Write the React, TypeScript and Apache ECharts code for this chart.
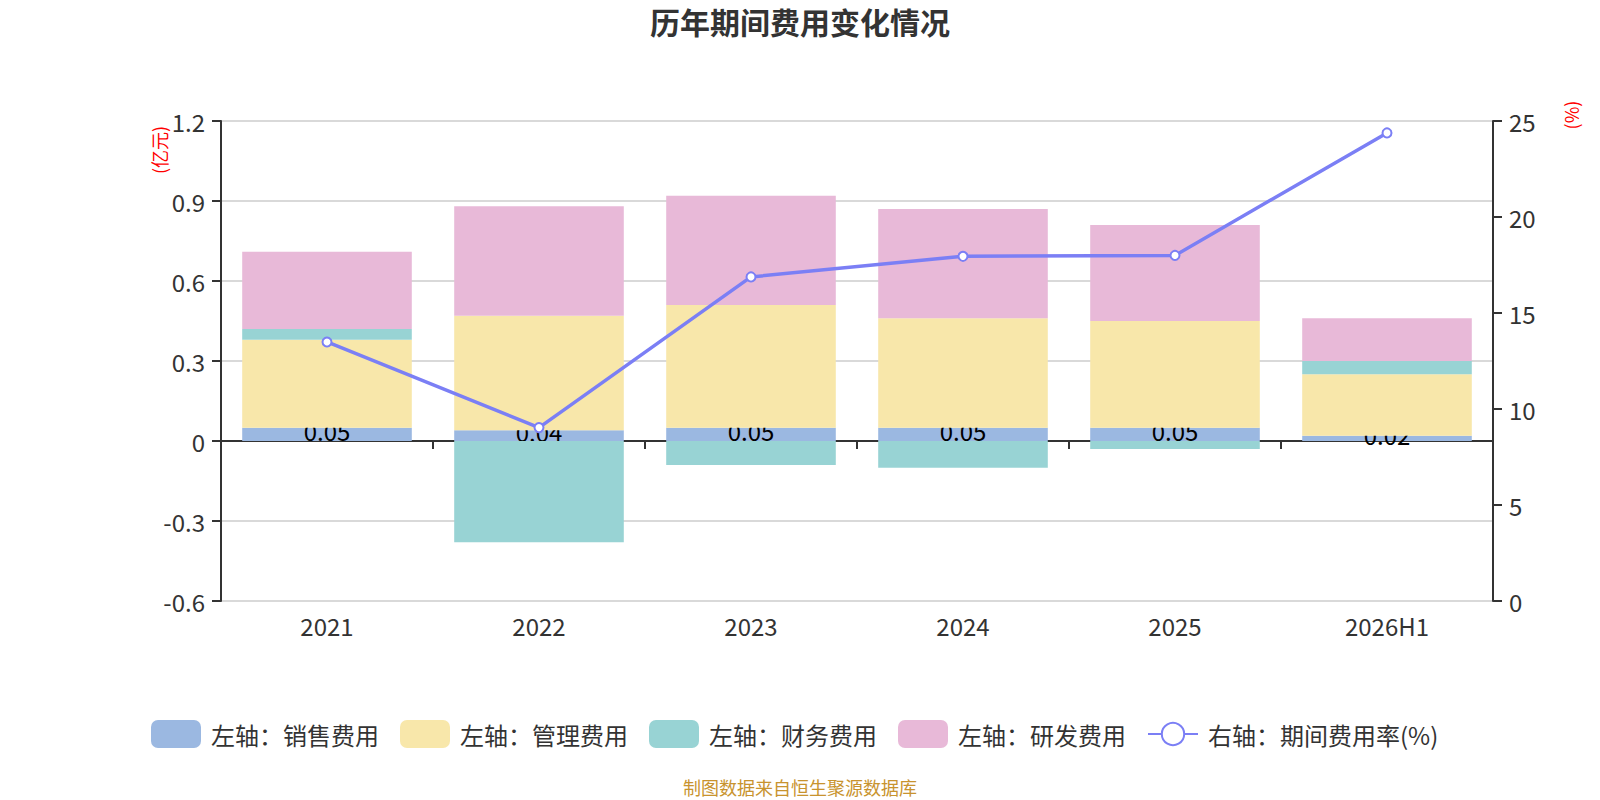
import React, { useEffect, useRef } from "react";
import * as echarts from "echarts";

const categories = ["2021", "2022", "2023", "2024", "2025", "2026H1"];
const salesExpense = [0.05, 0.04, 0.05, 0.05, 0.05, 0.02];
const adminExpense = [0.33, 0.43, 0.46, 0.41, 0.4, 0.23];
const financeExpense = [0.04, -0.38, -0.09, -0.1, -0.03, 0.05];
const rdExpense = [0.29, 0.41, 0.41, 0.41, 0.36, 0.16];
const expenseRate = [13.49, 9.03, 16.88, 17.95, 18.0, 24.38];

const leftTicks = { min: -0.6, max: 1.2, interval: 0.3 };
const rightTicks = { min: 0, max: 25, interval: 5 };

const FONT = "Noto Sans CJK SC";

export default function App() {
  const ref = useRef<HTMLDivElement>(null);

  useEffect(() => {
    if (!ref.current) return;
    const chart = echarts.init(ref.current, null, { renderer: "svg" });
    const barCommon = {
      type: "bar",
      stack: "total",
      barWidth: "80%",
      xAxisIndex: 0,
      yAxisIndex: 0,
    };
    chart.setOption({
      animation: false,
      textStyle: { fontFamily: FONT },
      title: {
        text: "历年期间费用变化情况",
        left: "center",
        top: 4,
        padding: [2, 5, 2, 5],
        textStyle: { fontSize: 30, fontWeight: "bold", color: "#333", fontFamily: FONT },
      },
      legend: {
        left: 146,
        top: 715,
        itemWidth: 50,
        itemHeight: 28,
        itemGap: 21,
        textStyle: { fontSize: 24, color: "#333", fontFamily: FONT, padding: [0, 0, 0, 5] },
        data: ["左轴：销售费用", "左轴：管理费用", "左轴：财务费用", "左轴：研发费用", "右轴：期间费用率(%)"],
      },
      grid: { left: 221, right: 107, top: 121, bottom: 199, containLabel: false },
      xAxis: [
        {
          type: "category",
          data: categories,
          position: "bottom",
          axisLine: { show: false, onZero: false },
          axisTick: { show: false },
          axisLabel: { margin: 12, fontSize: 24, color: "#333", fontFamily: FONT },
        },
        {
          type: "category",
          data: categories,
          position: "bottom",
          axisLine: { show: true, onZero: true, lineStyle: { color: "#333", width: 2 } },
          axisTick: { show: true, length: 8, lineStyle: { color: "#333", width: 2 } },
          axisLabel: { show: false },
        },
      ],
      yAxis: [
        {
          type: "value",
          min: leftTicks.min,
          max: leftTicks.max,
          interval: leftTicks.interval,
          axisLine: { show: true, lineStyle: { color: "#333", width: 2 } },
          axisTick: { show: true, length: 9, lineStyle: { color: "#333", width: 2 } },
          axisLabel: {
            margin: 16,
            fontSize: 24,
            color: "#333",
            fontFamily: FONT,
            formatter: (v: number) => String(Math.round(v * 10) / 10),
          },
          splitLine: { show: true, lineStyle: { color: "#ccc", width: 1.5 } },
        },
        {
          type: "value",
          position: "right",
          min: rightTicks.min,
          max: rightTicks.max,
          interval: rightTicks.interval,
          axisLine: { show: true, lineStyle: { color: "#333", width: 2 } },
          axisTick: { show: true, length: 9, lineStyle: { color: "#333", width: 2 } },
          axisLabel: { margin: 16, fontSize: 24, color: "#333", fontFamily: FONT },
          splitLine: { show: false },
        },
      ],
      graphic: [
        {
          type: "text",
          x: 159,
          y: 150,
          rotation: Math.PI / 2,
          style: {
            text: "(亿元)",
            fill: "#ff0000",
            fontSize: 18,
            fontFamily: FONT,
            align: "center",
            verticalAlign: "middle",
          },
        },
        {
          type: "text",
          x: 1571,
          y: 115,
          rotation: Math.PI / 2,
          style: {
            text: "(%)",
            fill: "#ff0000",
            fontSize: 18,
            fontFamily: FONT,
            align: "center",
            verticalAlign: "middle",
          },
        },
        {
          type: "text",
          x: 800,
          y: 787,
          style: {
            text: "制图数据来自恒生聚源数据库",
            fill: "#c8932e",
            fontSize: 18,
            fontFamily: FONT,
            align: "center",
            verticalAlign: "middle",
          },
        },
      ],
      series: [
        {
          ...barCommon,
          name: "左轴：销售费用",
          data: salesExpense,
          z: 2,
          itemStyle: { color: "#9bb8e1" },
          label: {
            show: true,
            position: "inside",
            offset: [0, -4],
            fontSize: 24,
            color: "#000",
            fontFamily: FONT,
            formatter: (p: any) => Number(p.value).toFixed(2),
          },
        },
        {
          ...barCommon,
          name: "左轴：管理费用",
          data: adminExpense,
          z: 3,
          itemStyle: { color: "#f8e7aa" },
        },
        {
          ...barCommon,
          name: "左轴：财务费用",
          data: financeExpense,
          z: 3,
          itemStyle: { color: "#98d3d4" },
        },
        {
          ...barCommon,
          name: "左轴：研发费用",
          data: rdExpense,
          z: 3,
          itemStyle: { color: "#e8b9d8" },
        },
        {
          type: "line",
          name: "右轴：期间费用率(%)",
          xAxisIndex: 0,
          yAxisIndex: 1,
          data: expenseRate,
          z: 5,
          symbol: "emptyCircle",
          symbolSize: 9,
          lineStyle: { color: "#7b7ff5", width: 3.5 },
          itemStyle: { color: "#7b7ff5", borderWidth: 2 },
        },
      ],
    });
    return () => chart.dispose();
  }, []);

  return (
    <div
      ref={ref}
      style={{ position: "absolute", left: 0, top: 0, width: 1600, height: 800 }}
    />
  );
}
